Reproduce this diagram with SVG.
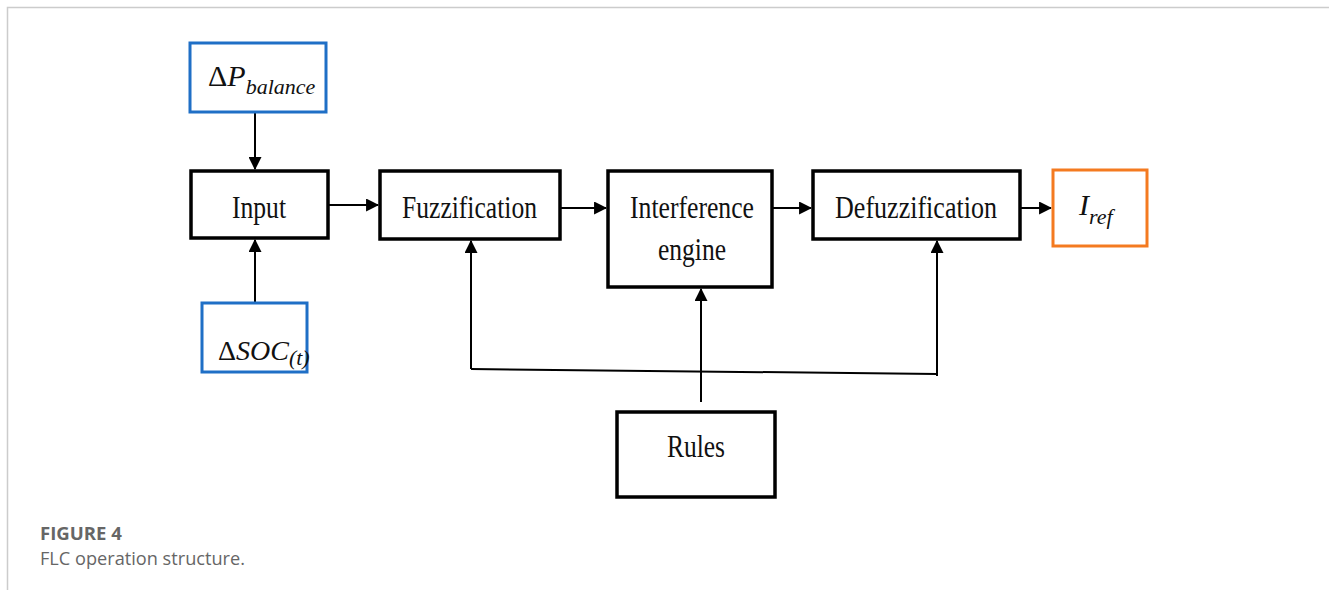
<svg xmlns="http://www.w3.org/2000/svg" width="1329" height="590" viewBox="0 0 1329 590">
<style>
.box{fill:#fff;stroke:#000;stroke-width:3.5}
.blue{fill:#fff;stroke:#1f6fc6;stroke-width:3}
.orange{fill:#fff;stroke:#f47a20;stroke-width:3}
.lbl{font-family:"Liberation Serif",serif;font-size:31px;fill:#111}
.math{font-family:"Liberation Serif",serif;font-style:italic;fill:#111}
.up{font-style:normal}
.conn{stroke:#000;stroke-width:2;fill:none}
.cap{font-family:"Open Sans","Liberation Sans",sans-serif;fill:#666}
</style>
<defs>
<marker id="ah" viewBox="0 0 12 12" refX="11" refY="6" markerWidth="13" markerHeight="13" markerUnits="userSpaceOnUse" orient="auto">
<path d="M0,0 L12,6 L0,12 Z" fill="#000"/>
</marker>
</defs>
<rect width="1329" height="590" fill="#fff"/>
<path d="M7.5,590 V7.5 H1329" fill="none" stroke="#ccc" stroke-width="1.5"/>

<g id="connectors">
<line class="conn" x1="255" y1="112" x2="255" y2="169" marker-end="url(#ah)"/>
<line class="conn" x1="255" y1="303" x2="255" y2="240" marker-end="url(#ah)"/>
<line class="conn" x1="328" y1="205" x2="378" y2="205" marker-end="url(#ah)"/>
<line class="conn" x1="560" y1="208" x2="606" y2="208" marker-end="url(#ah)"/>
<line class="conn" x1="772" y1="208" x2="811" y2="208" marker-end="url(#ah)"/>
<line class="conn" x1="1020" y1="208" x2="1051" y2="208" marker-end="url(#ah)"/>
<polyline class="conn" points="471,369 937,374"/>
<line class="conn" x1="471" y1="369" x2="471" y2="241" marker-end="url(#ah)"/>
<line class="conn" x1="937" y1="376" x2="937" y2="241" marker-end="url(#ah)"/>
<line class="conn" x1="701" y1="402" x2="701" y2="289" marker-end="url(#ah)"/>
</g>

<g id="dP">
<rect class="blue" x="190" y="43" width="136" height="69"/>
<text class="math" x="208" y="86" font-size="30"><tspan class="up">Δ</tspan>P<tspan font-size="22" dy="8">balance</tspan></text>
</g>
<g id="input">
<rect class="box" x="191" y="171" width="137" height="67"/>
<text class="lbl" x="259" y="218" text-anchor="middle" textLength="54" lengthAdjust="spacingAndGlyphs">Input</text>
</g>
<g id="dSOC">
<rect class="blue" x="202" y="303" width="105" height="69"/>
<text class="math" x="218" y="360" font-size="28"><tspan class="up">Δ</tspan>SOC<tspan font-size="22" dy="5">(t)</tspan></text>
</g>
<g id="fuzz">
<rect class="box" x="380" y="171" width="180" height="68"/>
<text class="lbl" x="402" y="218" textLength="135" lengthAdjust="spacingAndGlyphs">Fuzzification</text>
</g>
<g id="inter">
<rect class="box" x="608" y="171" width="164" height="116"/>
<text class="lbl" x="630" y="218" textLength="124" lengthAdjust="spacingAndGlyphs">Interference</text>
<text class="lbl" x="658" y="260" textLength="68" lengthAdjust="spacingAndGlyphs">engine</text>
</g>
<g id="defuzz">
<rect class="box" x="813" y="171" width="207" height="68"/>
<text class="lbl" x="835" y="218" textLength="162" lengthAdjust="spacingAndGlyphs">Defuzzification</text>
</g>
<g id="iref">
<rect class="orange" x="1053" y="170" width="94" height="76"/>
<text class="math" x="1079" y="215" font-size="30">I<tspan font-size="22" dy="9">ref</tspan></text>
</g>
<g id="rules">
<rect class="box" x="617" y="412" width="158" height="85"/>
<text class="lbl" x="667" y="457" textLength="58" lengthAdjust="spacingAndGlyphs">Rules</text>
</g>

<text class="cap" x="40" y="540" font-size="18" font-weight="bold" textLength="82" lengthAdjust="spacingAndGlyphs">FIGURE 4</text>
<text class="cap" x="40" y="565" font-size="18" textLength="205" lengthAdjust="spacingAndGlyphs">FLC operation structure.</text>
</svg>
